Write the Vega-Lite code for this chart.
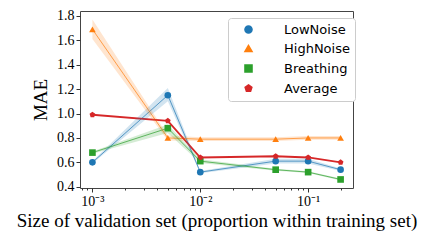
{
  "$schema": "https://vega.github.io/schema/vega-lite/v6.json",
  "autosize": "none",
  "width": 273,
  "height": 177,
  "padding": {"left": 80, "top": 11, "right": 83, "bottom": 55},
  "background": "white",
  "config": {
    "view": {"stroke": "#444", "strokeWidth": 1},
    "axis": {"labelFont": "Liberation Serif", "labelFontSize": 14, "labelColor": "#000", "titleFont": "Liberation Serif", "titleFontWeight": "normal", "titleColor": "#000", "grid": false, "domain": false, "tickColor": "#333", "labelOverlap": false, "labelFlush": false}
  },
  "data": {"values": [
    {"x": 0.001, "series": "LowNoise", "y": 0.60, "lo": 0.59, "hi": 0.61},
    {"x": 0.005, "series": "LowNoise", "y": 1.15, "lo": 1.10, "hi": 1.21},
    {"x": 0.01, "series": "LowNoise", "y": 0.52, "lo": 0.51, "hi": 0.53},
    {"x": 0.05, "series": "LowNoise", "y": 0.61, "lo": 0.59, "hi": 0.63},
    {"x": 0.1, "series": "LowNoise", "y": 0.61, "lo": 0.59, "hi": 0.63},
    {"x": 0.2, "series": "LowNoise", "y": 0.54, "lo": 0.53, "hi": 0.55},
    {"x": 0.001, "series": "HighNoise", "y": 1.69, "lo": 1.61, "hi": 1.77},
    {"x": 0.005, "series": "HighNoise", "y": 0.80, "lo": 0.78, "hi": 0.82},
    {"x": 0.01, "series": "HighNoise", "y": 0.79, "lo": 0.775, "hi": 0.805},
    {"x": 0.05, "series": "HighNoise", "y": 0.79, "lo": 0.775, "hi": 0.805},
    {"x": 0.1, "series": "HighNoise", "y": 0.80, "lo": 0.785, "hi": 0.815},
    {"x": 0.2, "series": "HighNoise", "y": 0.80, "lo": 0.785, "hi": 0.815},
    {"x": 0.001, "series": "Breathing", "y": 0.68, "lo": 0.67, "hi": 0.69},
    {"x": 0.005, "series": "Breathing", "y": 0.88, "lo": 0.84, "hi": 0.91},
    {"x": 0.01, "series": "Breathing", "y": 0.61, "lo": 0.595, "hi": 0.625},
    {"x": 0.05, "series": "Breathing", "y": 0.54, "lo": 0.532, "hi": 0.548},
    {"x": 0.1, "series": "Breathing", "y": 0.52, "lo": 0.512, "hi": 0.528},
    {"x": 0.2, "series": "Breathing", "y": 0.46, "lo": 0.452, "hi": 0.468},
    {"x": 0.001, "series": "Average", "y": 0.99, "lo": 0.99, "hi": 0.99},
    {"x": 0.005, "series": "Average", "y": 0.94, "lo": 0.94, "hi": 0.94},
    {"x": 0.01, "series": "Average", "y": 0.64, "lo": 0.64, "hi": 0.64},
    {"x": 0.05, "series": "Average", "y": 0.65, "lo": 0.65, "hi": 0.65},
    {"x": 0.1, "series": "Average", "y": 0.64, "lo": 0.64, "hi": 0.64},
    {"x": 0.2, "series": "Average", "y": 0.60, "lo": 0.60, "hi": 0.60}
  ]},
  "encoding": {
    "x": {
      "field": "x", "type": "quantitative",
      "scale": {"type": "log", "domain": [0.000767, 0.2606], "nice": false},
      "axis": {
        "title": "Size of validation set (proportion within training set)",
        "titleFont": "Liberation Serif", "titleFontSize": 19, "titlePadding": 3,
        "labelFont": "Liberation Serif", "labelFontSize": 14, "labelOverlap": false,
        "values": [0.0008, 0.0009, 0.001, 0.002, 0.003, 0.004, 0.005, 0.006, 0.007, 0.008, 0.009, 0.01, 0.02, 0.03, 0.04, 0.05, 0.06, 0.07, 0.08, 0.09, 0.1, 0.2],
        "labelExpr": "datum.value == 0.001 ? '10⁻³' : datum.value == 0.01 ? '10⁻²' : datum.value == 0.1 ? '10⁻¹' : ''",
        "tickSize": {"condition": {"test": "datum.value == 0.001 || datum.value == 0.01 || datum.value == 0.1", "value": 4}, "value": 2},
        "labelPadding": 2
      }
    },
    "y": {
      "field": "y", "type": "quantitative",
      "scale": {"domain": [0.39, 1.84], "nice": false, "zero": false},
      "axis": {"title": "MAE", "titleFont": "Liberation Serif", "titleFontSize": 19, "titlePadding": 6, "labelFont": "Liberation Serif", "labelFontSize": 14, "labelOverlap": false, "values": [0.4, 0.6, 0.8, 1.0, 1.2, 1.4, 1.6, 1.8], "format": ".1f", "tickSize": 4, "labelPadding": 2}
    },
    "color": {
      "field": "series", "type": "nominal",
      "scale": {"domain": ["LowNoise", "HighNoise", "Breathing", "Average"], "range": ["#1f77b4", "#ff7f0e", "#2ca02c", "#d62728"]},
      "legend": {
        "title": null, "orient": "none", "legendX": 148, "legendY": 7,
        "fillColor": "white", "strokeColor": "#ccc", "cornerRadius": 3, "padding": 5,
        "labelFont": "DejaVu Sans", "labelFontSize": 13, "labelColor": "#000",
        "symbolOffset": 9, "labelOffset": 29, "rowPadding": 5, "symbolOpacity": 1, "symbolSize": 50
      }
    }
  },
  "layer": [
    {
      "mark": {"type": "point", "filled": true, "opacity": 1},
      "encoding": {
        "shape": {
          "field": "series", "type": "nominal",
          "scale": {"domain": ["LowNoise", "HighNoise", "Breathing", "Average"], "range": ["circle", "triangle-up", "square", "M0,-1L0.951,-0.309L0.588,0.809L-0.588,0.809L-0.951,-0.309Z"]},
          "legend": {
            "title": null, "orient": "none", "legendX": 148, "legendY": 7,
            "fillColor": "white", "strokeColor": "#ccc", "cornerRadius": 3, "padding": 5,
            "labelFont": "DejaVu Sans", "labelFontSize": 13, "labelColor": "#000",
            "symbolOffset": 9, "labelOffset": 29, "rowPadding": 5, "symbolOpacity": 1, "symbolSize": 50
          }
        },
        "size": {"condition": {"test": "datum.series == 'Average'", "value": 36}, "value": 44}
      }
    },
    {
      "mark": {"type": "line"},
      "encoding": {
        "strokeWidth": {"condition": {"test": "datum.series == 'Average'", "value": 1.8}, "value": 1},
        "opacity": {"condition": {"test": "datum.series == 'Average'", "value": 1}, "value": 0.7}
      }
    },
    {
      "mark": {"type": "area", "fillOpacity": 0.2},
      "encoding": {
        "y": {"field": "lo", "type": "quantitative"},
        "y2": {"field": "hi"}
      }
    }
  ]
}
